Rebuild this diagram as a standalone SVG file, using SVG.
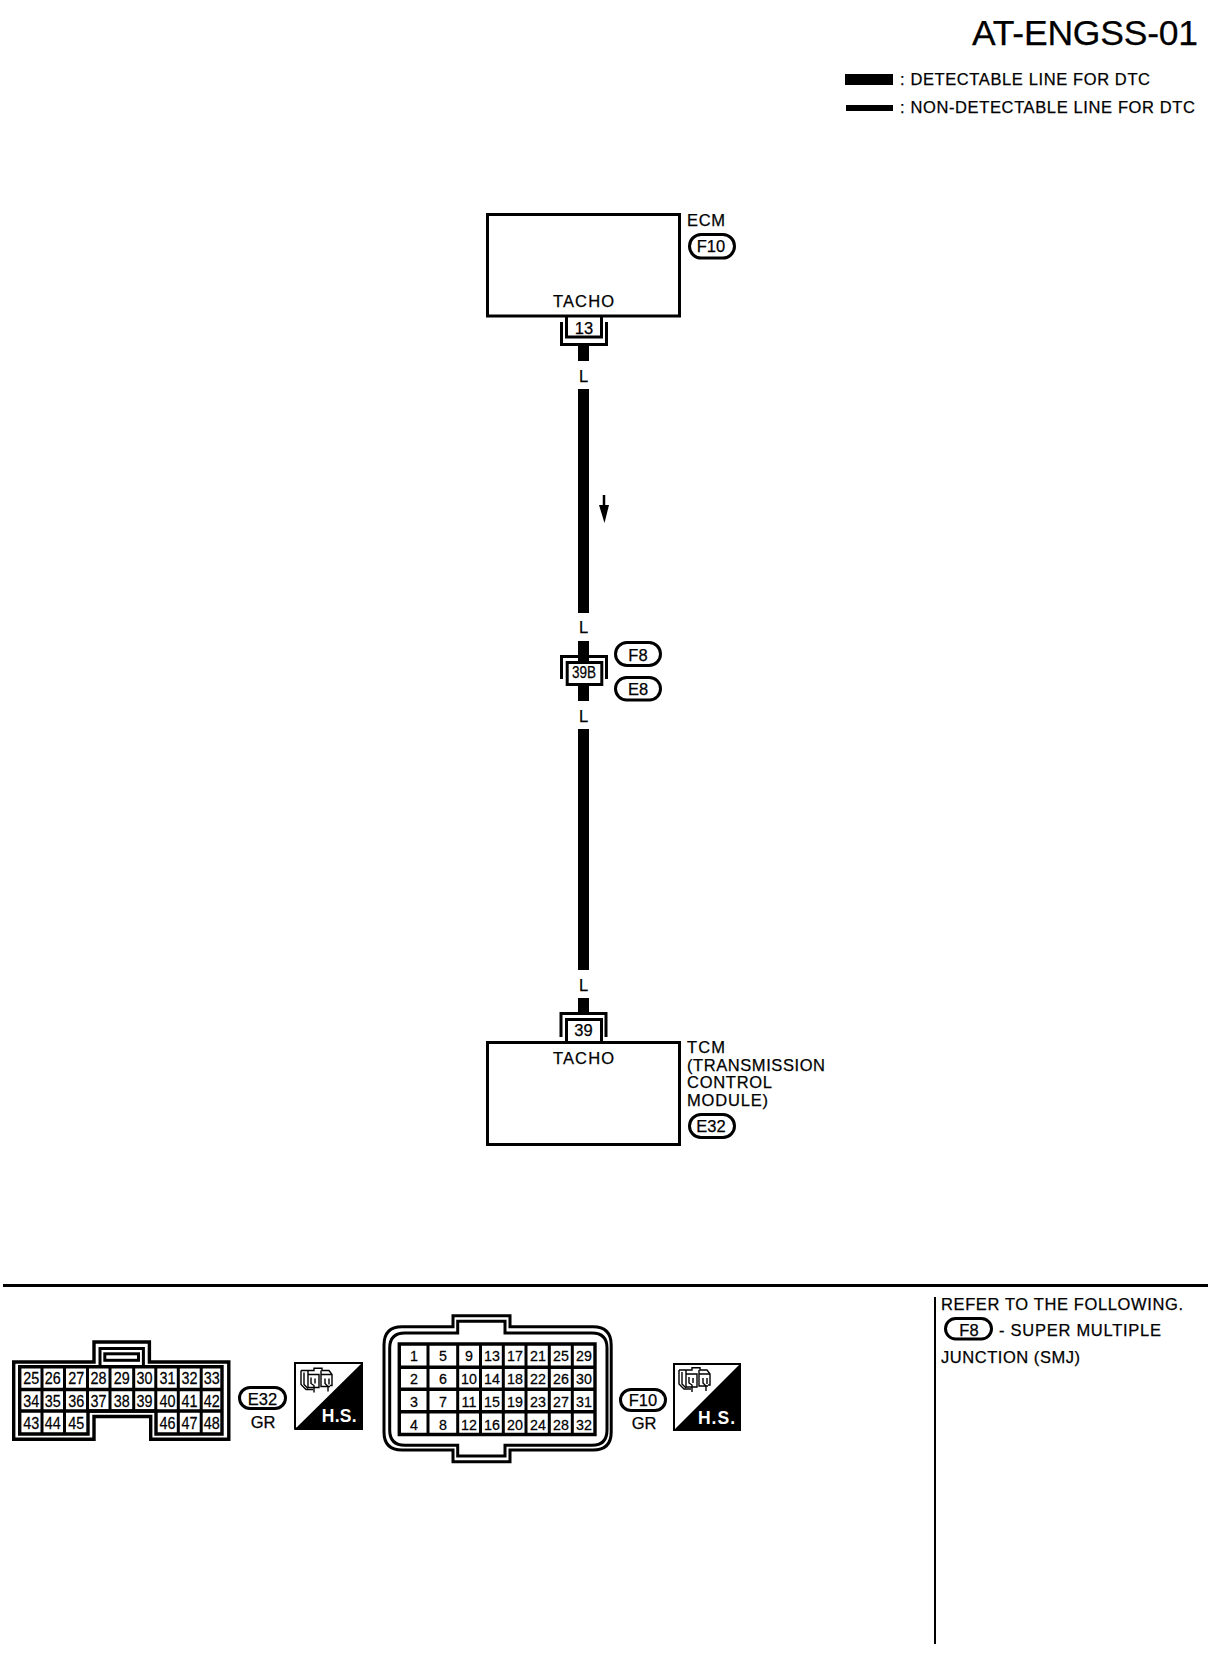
<svg xmlns="http://www.w3.org/2000/svg" width="1216" height="1660" viewBox="0 0 1216 1660">
<style>
text{font-family:"Liberation Sans",Arial,sans-serif;fill:#000;stroke:#000;stroke-width:.25}
.l{font-size:16.5px}
.c{font-size:16.5px;text-anchor:middle}
.n{font-size:16.5px;text-anchor:middle;transform-box:fill-box;transform-origin:center;transform:scaleX(.87)}
.m{font-size:15.5px;text-anchor:middle;transform-box:fill-box;transform-origin:center;transform:scaleX(.92)}
.box{fill:#fff;stroke:#000;stroke-width:3}
.pill{fill:#fff;stroke:#000;stroke-width:3}
.ln{fill:none;stroke:#000;stroke-width:3}
text.hs{fill:#fff;stroke:none;font-size:17.5px;font-weight:bold;text-anchor:middle}
.ic{fill:none;stroke:#000;stroke-width:1.4}
</style>
<defs>
<g id="hsIcon" class="ic">
<path d="M1 3H14V0.700H22V3H29L32 7V18H30M1 3V17L6 22H13"/>
<path d="M4 5V17L8 21"/>
<path d="M8 7H19V20H8ZM21 7H32M21 7V19H30M8 3V7M21 3V7"/>
<path d="M11 10V16L14 18V25M15 11V16M25 11V16L28 19V24M29 11V17"/>
</g>
</defs>

<g id="title">
<text x="972" y="45" font-size="35.500" textLength="226">AT-ENGSS-01</text>
</g>
<g id="legend">
<rect x="845" y="74" width="48" height="11"/>
<rect x="846" y="105" width="47" height="6"/>
<text class="l" x="900" y="85" textLength="250">: DETECTABLE LINE FOR DTC</text>
<text class="l" x="900" y="113" textLength="295">: NON-DETECTABLE LINE FOR DTC</text>
</g>

<g id="connectors">
<rect x="578" y="346" width="11" height="15"/>
<rect x="578" y="389" width="11" height="224"/>
<rect x="578" y="641" width="11" height="60"/>
<rect x="578" y="729" width="11" height="241"/>
<rect x="578" y="998" width="11" height="16"/>
<path d="M604 495V510" stroke="#000" stroke-width="2.500" fill="none"/>
<path d="M599 505H609L604.500 523Z"/>
<text class="c" x="583.500" y="382">L</text>
<text class="c" x="583.500" y="633">L</text>
<text class="c" x="583.500" y="722">L</text>
<text class="c" x="583.500" y="991">L</text>
</g>

<g id="ecm">
<rect class="box" x="487.500" y="214.500" width="192" height="101.500"/>
<text x="687" y="226" font-size="16.500" textLength="38">ECM</text>
<rect class="pill" x="689.500" y="234.500" width="45" height="23.500" rx="11.700"/>
<text class="c" x="711" y="252">F10</text>
<text x="553" y="307" font-size="16.500" textLength="61">TACHO</text>
</g>
<g id="pin13">
<path class="ln" d="M566.500 317V337H601.500V317"/>
<path class="ln" d="M561.500 322V344.500H606.500V322"/>
<text class="c" x="584" y="334">13</text>
</g>

<g id="j39b">
<path class="ln" d="M561.500 679V656.500H606.500V679"/>
<rect class="box" x="567.200" y="662.500" width="34.600" height="22"/>
<text x="572" y="678" font-size="16" textLength="24" lengthAdjust="spacingAndGlyphs">39B</text>
</g>
<g id="f8"><rect class="pill" x="615.500" y="642.500" width="45" height="23" rx="11.500"/>
<text class="c" x="638" y="661">F8</text></g>
<g id="e8"><rect class="pill" x="615.500" y="677.500" width="45" height="22.500" rx="11.200"/>
<text class="c" x="638" y="695">E8</text></g>

<g id="pin39">
<path class="ln" d="M561 1037V1013.500H606V1037"/>
<path class="ln" d="M566.500 1041V1019.500H601.500V1041"/>
<text class="c" x="583.500" y="1036">39</text>
</g>
<g id="tcm">
<rect class="box" x="487.500" y="1042.500" width="192" height="102"/>
<text x="553" y="1064" font-size="16.500" textLength="61">TACHO</text>
<text class="l" x="687" y="1053" textLength="38">TCM</text>
<text class="l" x="687" y="1071" textLength="138">(TRANSMISSION</text>
<text class="l" x="687" y="1088" textLength="85">CONTROL</text>
<text class="l" x="687" y="1106" textLength="81">MODULE)</text>
<rect class="pill" x="689.500" y="1114.500" width="45" height="23" rx="11.500"/>
<text class="c" x="711" y="1132">E32</text>
</g>

<g id="rules">
<path d="M3 1285.500H1208" stroke="#000" stroke-width="3" fill="none"/>
<path d="M935 1297V1644" stroke="#000" stroke-width="2" fill="none"/>
</g>
<g id="note">
<text class="l" x="941" y="1309.500" textLength="242">REFER TO THE FOLLOWING.</text>
<rect class="pill" x="945.500" y="1318.500" width="46" height="20.500" rx="10.200"/>
<text class="c" x="969" y="1336">F8</text>
<text class="l" x="999" y="1336" textLength="162">- SUPER MULTIPLE</text>
<text class="l" x="941" y="1363" textLength="139">JUNCTION (SMJ)</text>
</g>

<g id="connE32">
<path d="M13.700 1362H94V1342H149.400V1362H228.800V1439.300H150.700V1416.500H94V1439.300H13.700Z" fill="none" stroke="#000" stroke-width="3.400"/>
<path class="ln" d="M100 1367V1348.400H143.400V1367"/>
<rect class="ln" x="104.800" y="1353.800" width="33.700" height="6.500"/>
<path d="M19.700 1366.800H222V1434H156V1411H88V1434H19.700Z" fill="none" stroke="#000" stroke-width="3.400"/>
<path d="M19.700 1389.500H222M19.700 1411H222" fill="none" stroke="#000" stroke-width="3.600"/>
<path class="ln" d="M42 1367V1434M64.500 1367V1434M87.500 1367V1411M110 1367V1411M133.700 1367V1411M155.800 1367V1411M178.300 1367V1434M201.200 1367V1434"/>
<text class="n" x="31.200" y="1384.300">25</text><text class="n" x="52.800" y="1384.300">26</text><text class="n" x="76.300" y="1384.300">27</text><text class="n" x="98.600" y="1384.300">28</text><text class="n" x="121.800" y="1384.300">29</text><text class="n" x="144.500" y="1384.300">30</text><text class="n" x="167.500" y="1384.300">31</text><text class="n" x="189.500" y="1384.300">32</text><text class="n" x="211.700" y="1384.300">33</text>
<text class="n" x="31.200" y="1406.700">34</text><text class="n" x="52.800" y="1406.700">35</text><text class="n" x="76.300" y="1406.700">36</text><text class="n" x="98.600" y="1406.700">37</text><text class="n" x="121.800" y="1406.700">38</text><text class="n" x="144.500" y="1406.700">39</text><text class="n" x="167.500" y="1406.700">40</text><text class="n" x="189.500" y="1406.700">41</text><text class="n" x="211.700" y="1406.700">42</text>
<text class="n" x="31.200" y="1429.500">43</text><text class="n" x="52.800" y="1429.500">44</text><text class="n" x="76.300" y="1429.500">45</text><text class="n" x="167.500" y="1429.500">46</text><text class="n" x="189.500" y="1429.500">47</text><text class="n" x="211.700" y="1429.500">48</text>
</g>
<g id="e32tag">
<rect class="pill" x="239.500" y="1387.500" width="46" height="21" rx="10.500"/>
<text class="c" x="262.500" y="1404.500">E32</text>
<text class="c" x="263" y="1428">GR</text>
</g>
<g id="hs1">
<rect x="295" y="1363" width="67" height="65.500" fill="#fff" stroke="#000" stroke-width="2"/>
<path d="M294 1430L363 1362V1430Z"/>
<use href="#hsIcon" x="300" y="1367.500"/>
<text class="hs" x="339.200" y="1421.500" textLength="35">H.S.</text>
</g>

<g id="connF10">
<path class="ln" d="M453 1326.700V1315.700H510V1326.700H593Q611.200 1326.700 611.200 1345V1432Q611.200 1450 593 1450H510V1461.700H453V1450H402Q384 1450 384 1432V1345Q384 1326.700 402 1326.700Z"/>
<path class="ln" d="M457.700 1333V1321.300H505V1333H592Q607 1333 607 1348V1430Q607 1445.300 592 1445.300H505V1456H457.700V1445.300H405Q389.700 1445.300 389.700 1430V1348Q389.700 1333 405 1333Z" stroke-width="2.600"/>
<path d="M399.300 1344H595V1434.500H399.300ZM399.300 1367.200H595M399.300 1389.300H595M399.300 1411.700H595" fill="none" stroke="#000" stroke-width="3.400"/>
<path class="ln" d="M428 1344V1434.500M457.700 1344V1434.500M480.500 1344V1434.500M503.300 1344V1434.500M526 1344V1434.500M549.300 1344V1434.500M572.300 1344V1434.500"/>
<text class="m" x="414" y="1361.500">1</text><text class="m" x="443" y="1361.500">5</text><text class="m" x="469" y="1361.500">9</text><text class="m" x="492" y="1361.500">13</text><text class="m" x="515" y="1361.500">17</text><text class="m" x="538" y="1361.500">21</text><text class="m" x="561" y="1361.500">25</text><text class="m" x="584" y="1361.500">29</text>
<text class="m" x="414" y="1384">2</text><text class="m" x="443" y="1384">6</text><text class="m" x="469" y="1384">10</text><text class="m" x="492" y="1384">14</text><text class="m" x="515" y="1384">18</text><text class="m" x="538" y="1384">22</text><text class="m" x="561" y="1384">26</text><text class="m" x="584" y="1384">30</text>
<text class="m" x="414" y="1406.700">3</text><text class="m" x="443" y="1406.700">7</text><text class="m" x="469" y="1406.700">11</text><text class="m" x="492" y="1406.700">15</text><text class="m" x="515" y="1406.700">19</text><text class="m" x="538" y="1406.700">23</text><text class="m" x="561" y="1406.700">27</text><text class="m" x="584" y="1406.700">31</text>
<text class="m" x="414" y="1430">4</text><text class="m" x="443" y="1430">8</text><text class="m" x="469" y="1430">12</text><text class="m" x="492" y="1430">16</text><text class="m" x="515" y="1430">20</text><text class="m" x="538" y="1430">24</text><text class="m" x="561" y="1430">28</text><text class="m" x="584" y="1430">32</text>
</g>
<g id="f10tag">
<rect class="pill" x="620.500" y="1389.500" width="45" height="21" rx="10.500"/>
<text class="c" x="643" y="1406">F10</text>
<text class="c" x="644" y="1429">GR</text>
</g>
<g id="hs2">
<rect x="674" y="1364" width="66" height="66" fill="#fff" stroke="#000" stroke-width="2"/>
<path d="M673 1431L741 1363V1431Z"/>
<use href="#hsIcon" x="678" y="1367"/>
<text class="hs" x="716.500" y="1424" textLength="37">H.S.</text>
</g>
</svg>
